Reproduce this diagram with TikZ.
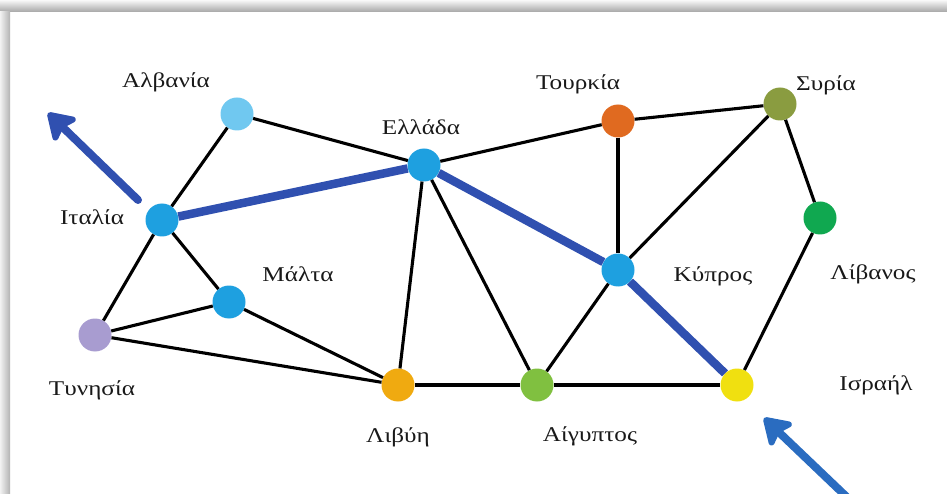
\documentclass[tikz,border=0pt]{standalone}
\usepackage{fontspec}
\setmainfont[FakeStretch = 1.2]{Liberation Serif}
\usetikzlibrary{arrows.meta}

\definecolor{cblue}{HTML}{1EA0E0}
\definecolor{clight}{HTML}{70C8F0}
\definecolor{clav}{HTML}{A89CD0}
\definecolor{corange}{HTML}{F0AA10}
\definecolor{cgreen}{HTML}{80C040}
\definecolor{cred}{HTML}{E06A20}
\definecolor{colive}{HTML}{8A9C40}
\definecolor{cdgreen}{HTML}{10A850}
\definecolor{cyellow}{HTML}{F0E010}
\definecolor{croute}{HTML}{3050B0}
\definecolor{carrow}{HTML}{2A6CC0}

\tikzset{
  country/.style = {shape = circle, fill = #1, inner sep = 0pt, minimum size = 33pt},
  tag/.style = {font = \fontsize{21}{21}\selectfont, text = black!90},
  link/.style = {line width = 3.1pt},
  route/.style = {line width = 8.5pt, croute},
  way/.style = {line width = 8pt, #1, line cap = round,
    -{Stealth[length = 30pt, width = 38pt, inset = 6pt, round]}}
}

\begin{document}
\begin{tikzpicture}[x = 1pt, y = -1pt]
    \useasboundingbox (0,0) rectangle (947,494);
    \shade [top color = gray!5, bottom color = gray!70] (0,0) rectangle (947,12);
    \shade [left color = gray!10, right color = gray!60] (0,12) rectangle (10,494);

    \node [country = clight] (alb) at (237,114) {};
    \node [tag] (ALB) at (166,82) {Αλβανία};
    \node [country = cblue] (gre) at (424,165) {};
    \node [tag] (GRE) at (421,127) {Ελλάδα};
    \node [country = cblue] (ita) at (162,220) {};
    \node [tag] (ITA) at (92,217) {Ιταλία};
    \node [country = cblue] (mal) at (229,302) {};
    \node [tag] (MAL) at (298,274) {Μάλτα};
    \node [country = clav] (tun) at (95,335) {};
    \node [tag] (TUN) at (92,390) {Τυνησία};
    \node [country = corange] (lib) at (398,385) {};
    \node [tag] (LIB) at (398,437) {Λιβύη};
    \node [country = cgreen] (egy) at (537,385) {};
    \node [tag] (EGY) at (590,436) {Αίγυπτος};
    \node [country = cred] (tur) at (618,121) {};
    \node [tag] (TUR) at (578,84) {Τουρκία};
    \node [country = colive] (syr) at (780,104) {};
    \node [tag] (SYR) at (826,85) {Συρία};
    \node [country = cdgreen] (leb) at (820,218) {};
    \node [tag] (LEB) at (873,274) {Λίβανος};
    \node [country = cblue] (cyp) at (618,270) {};
    \node [tag] (CYP) at (713,276) {Κύπρος};
    \node [country = cyellow] (isr) at (737,385) {};
    \node [tag] (ISR) at (876,385) {Ισραήλ};

    \coordinate (w0) at (138,200);
    \coordinate (w1) at (48,113);
    \coordinate (e0) at (852,502);
    \coordinate (e1) at (764,418);

    \draw [link] (alb) to (ita);
    \draw [link] (alb) to (gre);
    \draw [link] (ita) to (mal);
    \draw [link] (ita) to (tun);
    \draw [link] (tun) to (mal);
    \draw [link] (tun) to (lib);
    \draw [link] (mal) to (lib);
    \draw [link] (gre) to (lib);
    \draw [link] (gre) to (egy);
    \draw [link] (gre) to (tur);
    \draw [link] (tur) to (syr);
    \draw [link] (tur) to (cyp);
    \draw [link] (syr) to (cyp);
    \draw [link] (syr) to (leb);
    \draw [link] (leb) to (isr);
    \draw [link] (cyp) to (egy);
    \draw [link] (lib) to (egy);
    \draw [link] (egy) to (isr);

    \draw [route] (ita) to (gre);
    \draw [route] (gre) to (cyp);
    \draw [route] (cyp) to (isr);

    \draw [way = croute] (w0) to (w1);
    \draw [way = carrow] (e0) to (e1);
\end{tikzpicture}
\end{document}
